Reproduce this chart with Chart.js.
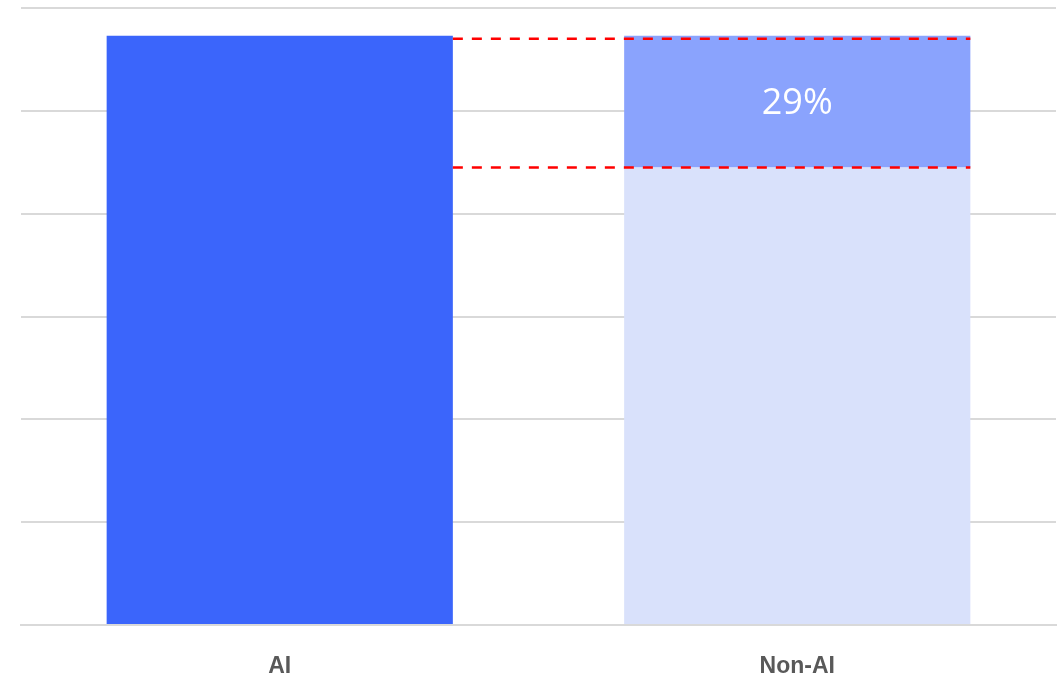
<!DOCTYPE html>
<html>
<head>
<meta charset="utf-8">
<script src="https://cdn.jsdelivr.net/npm/chart.js@4/dist/chart.umd.min.js"></script>
<style>
  html, body { margin: 0; padding: 0; background: #fff; }
  #wrap { width: 1063px; height: 679px; }
</style>
</head>
<body>
<div id="wrap"><canvas id="chart"></canvas></div>
<script>
const categories = ['AI', 'Non-AI']
const aiValues = [57.3, null]
const nonAiValues = [null, 44.5]
const gapValues = [null, 12.8]

// percentage by which AI exceeds Non-AI
const upliftPct = Math.round((aiValues[0] / nonAiValues[1] - 1) * 100)

const gapPlugin = {
  id: 'gapPlugin',
  afterDatasetsDraw(chart) {
    const ctx = chart.ctx
    const y = chart.scales.y
    const aiBar = chart.getDatasetMeta(0).data[0]
    const topBar = chart.getDatasetMeta(2).data[1]
    const right = topBar.x + topBar.width / 2
    const left = aiBar.x + aiBar.width / 2
    const yTop = y.getPixelForValue(aiValues[0])
    const yBase = y.getPixelForValue(nonAiValues[1])

    ctx.save()
    ctx.strokeStyle = '#ff0000'
    ctx.lineWidth = 2.5
    ctx.setLineDash([10, 9])
    ctx.beginPath()
    ctx.moveTo(left, yTop + 3)
    ctx.lineTo(right, yTop + 3)
    ctx.moveTo(left, yBase)
    ctx.lineTo(right, yBase)
    ctx.stroke()
    ctx.setLineDash([])

    ctx.fillStyle = '#ffffff'
    ctx.font = '36px "Open Sans", sans-serif'
    ctx.textAlign = 'center'
    ctx.textBaseline = 'middle'
    ctx.fillText(upliftPct + '%', topBar.x, (yTop + yBase) / 2 + 2)
    ctx.restore()
  }
}

new Chart(document.getElementById('chart'), {
  type: 'bar',
  data: {
    labels: categories,
    datasets: [
      { label: 'AI', data: aiValues, backgroundColor: '#3b65fb' },
      { label: 'Non-AI', data: nonAiValues, backgroundColor: '#d9e1fb' },
      { label: 'Gap', data: gapValues, backgroundColor: '#8aa3fd' }
    ]
  },
  options: {
    responsive: true,
    maintainAspectRatio: false,
    animation: false,
    layout: { padding: { left: 21, right: 7, top: 8, bottom: 0 } },
    datasets: {
      bar: { categoryPercentage: 1, barPercentage: 0.669 }
    },
    plugins: {
      legend: { display: false },
      tooltip: { enabled: false }
    },
    scales: {
      x: {
        stacked: true,
        afterFit(scale) { scale.height = 54 },
        grid: { display: false, drawTicks: false },
        border: { color: '#d9d9d9', width: 2 },
        ticks: {
          padding: 28,
          color: '#595959',
          font: { family: '"Liberation Sans", Arial, sans-serif', size: 23, weight: 'bold' }
        }
      },
      y: {
        stacked: true,
        min: 0,
        max: 60,
        ticks: { display: false, stepSize: 10 },
        grid: { color: '#d9d9d9', lineWidth: 2, drawTicks: false },
        border: { display: false }
      }
    }
  },
  plugins: [gapPlugin]
})
</script>
</body>
</html>
